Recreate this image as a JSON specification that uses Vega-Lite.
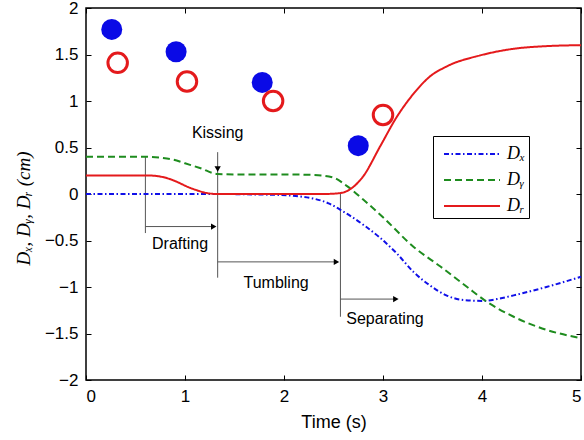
{
  "$schema": "https://vega.github.io/schema/vega-lite/v6.json",
  "width": 495,
  "height": 372,
  "autosize": {"type": "none"},
  "padding": {"left": 86, "top": 8, "right": 3, "bottom": 60},
  "background": "white",
  "config": {
    "view": {"stroke": "black", "strokeWidth": 1.5},
    "axis": {
      "grid": false,
      "domain": false,
      "tickColor": "black",
      "tickSize": 5,
      "offset": -5,
      "tickWidth": 1,
      "labelFont": "Liberation Sans",
      "labelFontSize": 17,
      "labelColor": "black",
      "titleColor": "black"
    }
  },
  "datasets": {
    "curves": [
      {"series": "Dₓ", "t": 0, "v": 0},
      {"series": "Dₓ", "t": 0.5, "v": 0},
      {"series": "Dₓ", "t": 1.0, "v": 0},
      {"series": "Dₓ", "t": 1.35, "v": 0},
      {"series": "Dₓ", "t": 1.7, "v": -0.005},
      {"series": "Dₓ", "t": 1.96, "v": -0.01},
      {"series": "Dₓ", "t": 2.15, "v": -0.025},
      {"series": "Dₓ", "t": 2.3, "v": -0.05},
      {"series": "Dₓ", "t": 2.45, "v": -0.1},
      {"series": "Dₓ", "t": 2.57, "v": -0.17},
      {"series": "Dₓ", "t": 2.8, "v": -0.33},
      {"series": "Dₓ", "t": 2.97, "v": -0.47},
      {"series": "Dₓ", "t": 3.14, "v": -0.64},
      {"series": "Dₓ", "t": 3.31, "v": -0.84},
      {"series": "Dₓ", "t": 3.47, "v": -0.98},
      {"series": "Dₓ", "t": 3.64, "v": -1.09},
      {"series": "Dₓ", "t": 3.81, "v": -1.14},
      {"series": "Dₓ", "t": 4.01, "v": -1.15},
      {"series": "Dₓ", "t": 4.15, "v": -1.13},
      {"series": "Dₓ", "t": 4.32, "v": -1.09},
      {"series": "Dₓ", "t": 4.65, "v": -1.0},
      {"series": "Dₓ", "t": 5.0, "v": -0.89},
      {"series": "Dᵧ", "t": 0, "v": 0.4},
      {"series": "Dᵧ", "t": 0.3, "v": 0.4},
      {"series": "Dᵧ", "t": 0.6, "v": 0.4},
      {"series": "Dᵧ", "t": 0.75, "v": 0.39},
      {"series": "Dᵧ", "t": 0.88, "v": 0.37},
      {"series": "Dᵧ", "t": 1.0, "v": 0.33},
      {"series": "Dᵧ", "t": 1.15, "v": 0.28},
      {"series": "Dᵧ", "t": 1.33, "v": 0.215},
      {"series": "Dᵧ", "t": 1.6, "v": 0.21},
      {"series": "Dᵧ", "t": 2.0, "v": 0.21},
      {"series": "Dᵧ", "t": 2.3, "v": 0.205},
      {"series": "Dᵧ", "t": 2.49, "v": 0.18},
      {"series": "Dᵧ", "t": 2.63, "v": 0.09},
      {"series": "Dᵧ", "t": 2.8, "v": -0.06},
      {"series": "Dᵧ", "t": 3.0, "v": -0.25},
      {"series": "Dᵧ", "t": 3.31, "v": -0.57},
      {"series": "Dᵧ", "t": 3.58, "v": -0.78},
      {"series": "Dᵧ", "t": 3.85, "v": -1.0},
      {"series": "Dᵧ", "t": 4.05, "v": -1.16},
      {"series": "Dᵧ", "t": 4.32, "v": -1.32},
      {"series": "Dᵧ", "t": 4.65, "v": -1.46},
      {"series": "Dᵧ", "t": 5.0, "v": -1.55},
      {"series": "Dᵣ", "t": 0, "v": 0.2},
      {"series": "Dᵣ", "t": 0.3, "v": 0.2},
      {"series": "Dᵣ", "t": 0.6, "v": 0.2},
      {"series": "Dᵣ", "t": 0.7, "v": 0.195},
      {"series": "Dᵣ", "t": 0.82, "v": 0.17},
      {"series": "Dᵣ", "t": 0.92, "v": 0.13},
      {"series": "Dᵣ", "t": 1.02, "v": 0.08},
      {"series": "Dᵣ", "t": 1.12, "v": 0.04},
      {"series": "Dᵣ", "t": 1.2, "v": 0.015},
      {"series": "Dᵣ", "t": 1.33, "v": 0.0},
      {"series": "Dᵣ", "t": 1.6, "v": 0},
      {"series": "Dᵣ", "t": 2.0, "v": 0},
      {"series": "Dᵣ", "t": 2.4, "v": 0},
      {"series": "Dᵣ", "t": 2.57, "v": 0.01},
      {"series": "Dᵣ", "t": 2.68, "v": 0.06},
      {"series": "Dᵣ", "t": 2.8, "v": 0.19},
      {"series": "Dᵣ", "t": 2.97, "v": 0.51},
      {"series": "Dᵣ", "t": 3.14, "v": 0.83},
      {"series": "Dᵣ", "t": 3.31, "v": 1.08},
      {"series": "Dᵣ", "t": 3.47, "v": 1.26},
      {"series": "Dᵣ", "t": 3.64, "v": 1.37},
      {"series": "Dᵣ", "t": 3.98, "v": 1.49},
      {"series": "Dᵣ", "t": 4.31, "v": 1.56},
      {"series": "Dᵣ", "t": 4.65, "v": 1.59},
      {"series": "Dᵣ", "t": 5.0, "v": 1.6}
    ],
    "blueDots": [
      {"t": 0.26, "v": 1.77},
      {"t": 0.91, "v": 1.53},
      {"t": 1.78, "v": 1.2},
      {"t": 2.75, "v": 0.52}
    ],
    "redRings": [
      {"t": 0.32, "v": 1.41},
      {"t": 1.02, "v": 1.21},
      {"t": 1.89, "v": 1.0},
      {"t": 3.0, "v": 0.85}
    ],
    "segs": [
      {"t": 0.6, "v": 0.4, "t2": 0.6, "v2": -0.42},
      {"t": 1.33, "v": 0.45, "t2": 1.33, "v2": -0.9},
      {"t": 2.57, "v": 0.0, "t2": 2.57, "v2": -1.32},
      {"t": 0.6, "v": -0.35, "t2": 1.3, "v2": -0.35},
      {"t": 1.33, "v": -0.73, "t2": 2.54, "v2": -0.73},
      {"t": 2.57, "v": -1.13, "t2": 3.14, "v2": -1.13}
    ],
    "headsRight": [
      {"t": 1.29, "v": -0.35},
      {"t": 2.53, "v": -0.73},
      {"t": 3.13, "v": -1.13}
    ],
    "headsDown": [
      {"t": 1.33, "v": 0.27}
    ],
    "notes": [
      {"t": 1.33, "v": 0.66, "label": "Kissing"},
      {"t": 0.95, "v": -0.54, "label": "Drafting"},
      {"t": 1.92, "v": -0.96, "label": "Tumbling"},
      {"t": 3.02, "v": -1.34, "label": "Separating"}
    ]
  },
  "resolve": {"axis": {"x": "independent", "y": "independent"}},
  "layer": [
    {
      "data": {"name": "segs"},
      "mark": {"type": "rule", "color": "#555555", "strokeWidth": 1},
      "encoding": {
        "x": {"field": "t", "type": "quantitative", "scale": {"domain": [0, 5], "nice": false, "zero": false},
          "axis": {"orient": "top", "labels": false, "title": null, "values": [0, 1, 2, 3, 4, 5]}},
        "y": {"field": "v", "type": "quantitative", "scale": {"domain": [-2, 2], "nice": false, "zero": false},
          "axis": {"orient": "right", "labels": false, "title": null, "values": [-2, -1.5, -1, -0.5, 0, 0.5, 1, 1.5, 2]}},
        "x2": {"field": "t2"},
        "y2": {"field": "v2"}
      }
    },
    {
      "data": {"name": "headsRight"},
      "mark": {"type": "point", "shape": "triangle-right", "filled": true, "color": "black", "size": 40, "opacity": 1},
      "encoding": {
        "x": {"field": "t", "type": "quantitative", "axis": null},
        "y": {"field": "v", "type": "quantitative", "axis": null}
      }
    },
    {
      "data": {"name": "headsDown"},
      "mark": {"type": "point", "shape": "triangle-down", "filled": true, "color": "black", "size": 40, "opacity": 1},
      "encoding": {
        "x": {"field": "t", "type": "quantitative", "axis": null},
        "y": {"field": "v", "type": "quantitative", "axis": null}
      }
    },
    {
      "data": {"name": "curves"},
      "mark": {"type": "line", "interpolate": "monotone", "strokeWidth": 2},
      "encoding": {
        "x": {"field": "t", "type": "quantitative",
          "axis": {"orient": "bottom", "values": [0, 1, 2, 3, 4, 5], "format": "d", "title": "Time (s)",
            "labelPadding": 8, "titleFont": "Liberation Sans", "titleFontSize": 18, "titleFontWeight": "normal", "titlePadding": 9}},
        "y": {"field": "v", "type": "quantitative",
          "axis": {"orient": "left", "values": [-2, -1.5, -1, -0.5, 0, 0.5, 1, 1.5, 2], "format": "~g",
            "title": "Dₓ, Dᵧ, Dᵣ (cm)", "labelPadding": 8, "titleFont": "Liberation Serif, DejaVu Serif", "titleFontStyle": "italic",
            "titleFontWeight": "normal", "titleFontSize": 19, "titlePadding": 11, "titleY": 200}},
        "color": {"field": "series", "type": "nominal",
          "scale": {"domain": ["Dₓ", "Dᵧ", "Dᵣ"], "range": ["#1010e8", "#1e8c1e", "#e41a1c"]},
          "legend": {"orient": "none", "legendX": 347, "legendY": 128, "title": null, "symbolType": "M-0.5,0H3.5",
            "symbolSize": 784, "symbolStrokeWidth": 2, "labelFont": "Liberation Serif, DejaVu Serif", "labelFontStyle": "italic",
            "labelFontSize": 18, "labelColor": "black", "strokeColor": "black", "fillColor": "white", "padding": 3,
            "labelOffset": 41, "labelExpr": "datum.label + '\u00a0\u00a0\u00a0\u00a0\u00a0\u00a0\u00a0'"}},
        "strokeDash": {"field": "series", "type": "nominal",
          "scale": {"domain": ["Dₓ", "Dᵧ", "Dᵣ"], "range": [[5, 2.5, 1.5, 2.5], [7, 4], [1, 0]]},
          "legend": {"orient": "none", "legendX": 347, "legendY": 128, "title": null, "symbolType": "M-0.5,0H3.5",
            "symbolSize": 784, "symbolStrokeWidth": 2, "labelFont": "Liberation Serif, DejaVu Serif", "labelFontStyle": "italic",
            "labelFontSize": 18, "labelColor": "black", "strokeColor": "black", "fillColor": "white", "padding": 3,
            "labelOffset": 41, "labelExpr": "datum.label + '\u00a0\u00a0\u00a0\u00a0\u00a0\u00a0\u00a0'"}}
      }
    },
    {
      "data": {"name": "blueDots"},
      "mark": {"type": "point", "shape": "circle", "filled": true, "color": "#0a0ae6", "size": 441, "opacity": 1},
      "encoding": {
        "x": {"field": "t", "type": "quantitative", "axis": null},
        "y": {"field": "v", "type": "quantitative", "axis": null}
      }
    },
    {
      "data": {"name": "redRings"},
      "mark": {"type": "point", "shape": "circle", "filled": false, "color": "#e41a1c", "size": 380, "strokeWidth": 3, "opacity": 1},
      "encoding": {
        "x": {"field": "t", "type": "quantitative", "axis": null},
        "y": {"field": "v", "type": "quantitative", "axis": null}
      }
    },
    {
      "data": {"name": "notes"},
      "mark": {"type": "text", "font": "Liberation Sans", "fontSize": 16, "color": "black", "align": "center", "baseline": "middle"},
      "encoding": {
        "x": {"field": "t", "type": "quantitative", "axis": null},
        "y": {"field": "v", "type": "quantitative", "axis": null},
        "text": {"field": "label"}
      }
    }
  ]
}
